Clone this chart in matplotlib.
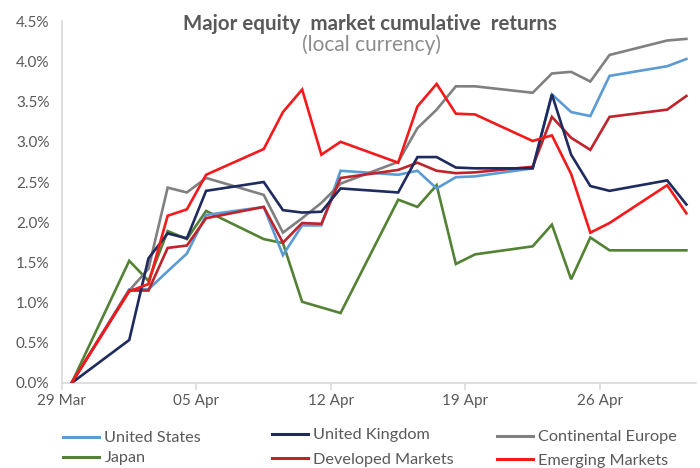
import matplotlib
matplotlib.use("Agg")
import matplotlib.pyplot as plt
import matplotlib.dates as mdates
from matplotlib.lines import Line2D
from matplotlib.ticker import FuncFormatter
import pandas as pd

plt.rcParams['font.family'] = ['Lato', 'DejaVu Sans']

dates = ["2019-03-29", "2019-04-01", "2019-04-02", "2019-04-03", "2019-04-04", "2019-04-05",
         "2019-04-08", "2019-04-09", "2019-04-10", "2019-04-11", "2019-04-12",
         "2019-04-15", "2019-04-16", "2019-04-17", "2019-04-18", "2019-04-19",
         "2019-04-22", "2019-04-23", "2019-04-24", "2019-04-25", "2019-04-26",
         "2019-04-29", "2019-04-30"]

united_states = [0, 1.165, 1.165, 1.39, 1.61, 2.09, 2.19, 1.59, 1.96, 1.96, 2.64,
                 2.59, 2.64, 2.42, 2.56, 2.57, 2.67, 3.59, 3.37, 3.32, 3.82, 3.94, 4.03]
united_kingdom = [0, 0.535, 1.55, 1.86, 1.80, 2.39, 2.50, 2.15, 2.12, 2.13, 2.42,
                  2.37, 2.81, 2.81, 2.68, 2.67, 2.67, 3.59, 2.84, 2.45, 2.39, 2.52, 2.22]
continental_europe = [0, 1.15, 1.42, 2.43, 2.37, 2.55, 2.34, 1.87, 2.05, 2.24, 2.48,
                      2.75, 3.17, 3.40, 3.69, 3.69, 3.61, 3.85, 3.87, 3.75, 4.08, 4.26, 4.28]
japan = [0, 1.52, 1.27, 1.89, 1.79, 2.14, 1.79, 1.74, 1.01, 0.94, 0.87,
         2.28, 2.19, 2.46, 1.48, 1.60, 1.70, 1.97, 1.29, 1.81, 1.65, 1.65, 1.65]
developed_markets = [0, 1.15, 1.15, 1.68, 1.71, 2.05, 2.19, 1.745, 1.99, 1.98, 2.55,
                     2.65, 2.74, 2.64, 2.61, 2.62, 2.69, 3.31, 3.05, 2.90, 3.31, 3.40, 3.57]
emerging_markets = [0, 1.14, 1.23, 2.08, 2.16, 2.59, 2.91, 3.37, 3.65, 2.84, 3.00,
                    2.74, 3.44, 3.72, 3.35, 3.34, 3.01, 3.08, 2.60, 1.87, 1.99, 2.46, 2.11]

series_names = ["United States", "United Kingdom", "Continental Europe",
                "Japan", "Developed Markets", "Emerging Markets"]
tick_dates = ["2019-03-29", "2019-04-05", "2019-04-12", "2019-04-19", "2019-04-26"]

colors = {
    "United States": "#5B9BD5",
    "United Kingdom": "#1F2A5E",
    "Continental Europe": "#808080",
    "Japan": "#548235",
    "Developed Markets": "#C0232B",
    "Emerging Markets": "#F5191C",
}
values = {
    "United States": united_states,
    "United Kingdom": united_kingdom,
    "Continental Europe": continental_europe,
    "Japan": japan,
    "Developed Markets": developed_markets,
    "Emerging Markets": emerging_markets,
}

x = pd.to_datetime(dates) + pd.Timedelta(hours=12)

fig = plt.figure(figsize=(7.0, 4.68), dpi=100)
ax = fig.add_axes([62/700, 1-383/468, (696-62)/700, (383-21.2)/468])

order = ["Japan", "United States", "Continental Europe", "Developed Markets",
         "United Kingdom", "Emerging Markets"]
for name in order:
    ax.plot(x, values[name], color=colors[name], lw=1.9, solid_joinstyle='miter', zorder=3)

ax.set_ylim(0, 4.5)
ax.set_yticks([0, 0.5, 1.0, 1.5, 2.0, 2.5, 3.0, 3.5, 4.0, 4.5])
ax.yaxis.set_major_formatter(FuncFormatter(lambda v, p: f"{v:.1f}%"))
ax.set_xlim(pd.Timestamp("2019-03-29"), pd.Timestamp("2019-05-01"))
ax.set_xticks(pd.to_datetime(tick_dates))
ax.xaxis.set_major_formatter(mdates.DateFormatter("%d %b"))

for s in ["top", "right"]:
    ax.spines[s].set_visible(False)
for s in ["left", "bottom"]:
    ax.spines[s].set_color("#D9D9D9")
    ax.spines[s].set_linewidth(1.2)
ax.tick_params(axis='y', length=0, labelsize=11, labelcolor="#595959", pad=9)
ax.tick_params(axis='x', length=5, color="#D9D9D9", width=1.2, labelsize=11,
               labelcolor="#595959", pad=3)

fig.text(370/700, 1-24/468, "Major equity  market cumulative  returns", ha='center', va='center',
         fontsize=14.8, fontweight='bold', color="#595959")
fig.text(371/700, 1-45/468, "(local currency)", ha='center', va='center',
         fontsize=15, fontweight='normal', color="#8C8C8C")

cols = [(["United States", "Japan"], 63, 441, 0.35),
        (["United Kingdom", "Developed Markets"], 272, 438, 0.62),
        (["Continental Europe", "Emerging Markets"], 497, 440, 0.55)]
for names, xpx, ypx, ls in cols:
    handles = [Line2D([], [], color=colors[n], lw=2.2) for n in names]
    leg = fig.legend(handles, names, loc='upper left',
                     bbox_to_anchor=(xpx/700, 1-(ypx-10)/468),
                     frameon=False, fontsize=11.7, handlelength=2.2, handletextpad=0.35,
                     labelspacing=ls, borderpad=0, borderaxespad=0)
    for t in leg.get_texts():
        t.set_color("#595959")

fig.savefig("out.png", dpi=100)
